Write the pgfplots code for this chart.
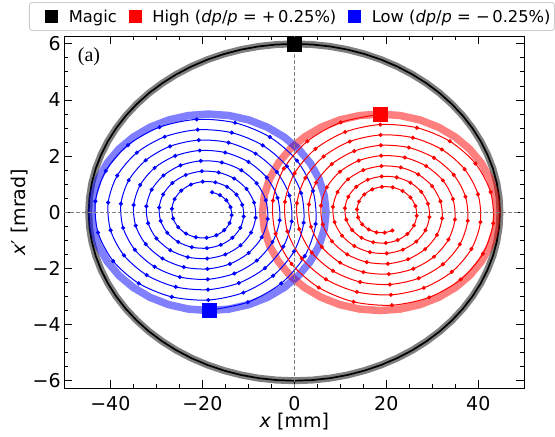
\documentclass[border=0pt]{standalone}
\usepackage{fontspec}
\setmainfont{DejaVu Sans}
\newfontfamily\panelfont{Liberation Serif}
\usepackage{pgfplots}
\usepackage{pgfplotstable}
\pgfplotsset{compat=1.18}

\definecolor{dashgray}{RGB}{128,128,128}
\definecolor{legendedge}{RGB}{204,204,204}

% magic-momentum orbit (x in mm, x' in mrad)
\pgfplotstableread{
x y
0.00 6.000
3.90 5.977
7.76 5.909
11.57 5.796
15.29 5.638
18.89 5.438
22.35 5.196
25.64 4.915
28.73 4.596
31.61 4.243
34.24 3.857
36.62 3.441
38.71 3.000
40.51 2.536
42.00 2.052
43.18 1.553
44.02 1.042
44.53 0.523
44.70 0.000
44.53 -0.523
44.02 -1.042
43.18 -1.553
42.00 -2.052
40.51 -2.536
38.71 -3.000
36.62 -3.441
34.24 -3.857
31.61 -4.243
28.73 -4.596
25.64 -4.915
22.35 -5.196
18.89 -5.438
15.29 -5.638
11.57 -5.796
7.76 -5.909
3.90 -5.977
0.00 -6.000
-3.90 -5.977
-7.76 -5.909
-11.57 -5.796
-15.29 -5.638
-18.89 -5.438
-22.35 -5.196
-25.64 -4.915
-28.73 -4.596
-31.61 -4.243
-34.24 -3.857
-36.62 -3.441
-38.71 -3.000
-40.51 -2.536
-42.00 -2.052
-43.18 -1.553
-44.02 -1.042
-44.53 -0.523
-44.70 0.000
-44.53 0.523
-44.02 1.042
-43.18 1.553
-42.00 2.052
-40.51 2.536
-38.71 3.000
-36.62 3.441
-34.24 3.857
-31.61 4.243
-28.73 4.596
-25.64 4.915
-22.35 5.196
-18.89 5.438
-15.29 5.638
-11.57 5.796
-7.76 5.909
-3.90 5.977
0.00 6.000
}\magicorbit

% acceptance ellipse of the dp/p = +0.25% beam
\pgfplotstableread{
x y
18.60 3.500
23.03 3.447
27.32 3.289
31.35 3.031
34.99 2.681
38.13 2.250
40.68 1.750
42.56 1.197
43.71 0.608
44.10 0.000
43.71 -0.608
42.56 -1.197
40.68 -1.750
38.13 -2.250
34.99 -2.681
31.35 -3.031
27.32 -3.289
23.03 -3.447
18.60 -3.500
14.17 -3.447
9.88 -3.289
5.85 -3.031
2.21 -2.681
-0.93 -2.250
-3.48 -1.750
-5.36 -1.197
-6.51 -0.608
-6.90 0.000
-6.51 0.608
-5.36 1.197
-3.48 1.750
-0.93 2.250
2.21 2.681
5.85 3.031
9.88 3.289
14.17 3.447
18.60 3.500
}\highring

% acceptance ellipse of the dp/p = -0.25% beam
\pgfplotstableread{
x y
-18.60 -3.500
-23.03 -3.447
-27.32 -3.289
-31.35 -3.031
-34.99 -2.681
-38.13 -2.250
-40.68 -1.750
-42.56 -1.197
-43.71 -0.608
-44.10 0.000
-43.71 0.608
-42.56 1.197
-40.68 1.750
-38.13 2.250
-34.99 2.681
-31.35 3.031
-27.32 3.289
-23.03 3.447
-18.60 3.500
-14.17 3.447
-9.88 3.289
-5.85 3.031
-2.21 2.681
0.93 2.250
3.48 1.750
5.36 1.197
6.51 0.608
6.90 0.000
6.51 -0.608
5.36 -1.197
3.48 -1.750
0.93 -2.250
-2.21 -2.681
-5.85 -3.031
-9.88 -3.289
-14.17 -3.447
-18.60 -3.500
}\lowring

% turn-by-turn phase-space track, dp/p = +0.25%
\pgfplotstableread{
x y
18.63 3.495
10.10 3.202
2.84 2.530
-2.27 1.561
-4.65 0.417
-4.06 -0.764
-0.59 -1.839
5.31 -2.680
12.89 -3.190
21.22 -3.310
29.30 -3.032
36.15 -2.395
40.98 -1.477
43.23 -0.394
42.66 0.723
39.37 1.738
33.80 2.532
26.64 3.013
18.69 3.126
11.07 2.862
4.61 2.259
0.07 1.393
-2.04 0.372
-1.50 -0.681
1.61 -1.638
6.86 -2.385
13.60 -2.836
21.00 -2.941
28.16 -2.692
34.23 -2.124
38.49 -1.309
40.46 -0.349
39.94 0.639
37.02 1.537
32.09 2.237
25.77 2.659
18.76 2.756
12.05 2.521
6.38 1.989
2.40 1.225
0.57 0.326
1.07 -0.598
3.80 -1.436
8.41 -2.089
14.31 -2.483
20.77 -2.571
27.02 -2.351
32.30 -1.853
35.99 -1.141
37.69 -0.304
37.21 0.556
34.66 1.335
30.37 1.941
24.89 2.306
18.82 2.387
13.03 2.181
8.15 1.718
4.74 1.057
3.18 0.281
3.63 -0.515
5.99 -1.235
9.96 -1.794
15.02 -2.129
20.55 -2.202
25.88 -2.010
30.37 -1.583
33.50 -0.973
34.92 -0.259
34.49 0.473
32.31 1.134
28.66 1.646
24.02 1.952
18.88 2.017
14.01 1.840
9.92 1.447
7.07 0.889
5.79 0.236
6.19 -0.431
8.19 -1.033
11.51 -1.498
15.74 -1.775
20.33 -1.832
24.74 -1.670
28.44 -1.312
31.00 -0.805
32.15 -0.214
31.77 0.390
29.96 0.932
26.95 1.350
23.15 1.598
18.94 1.648
14.99 1.500
11.68 1.177
9.40 0.721
8.40 0.191
8.75 -0.348
10.38 -0.832
13.06 -1.203
16.45 -1.421
20.11 -1.463
23.60 -1.329
26.51 -1.042
28.51 -0.637
29.38 -0.169
29.05 0.306
27.61 0.731
25.24 1.055
22.28 1.244
19.00 1.278
15.97 1.159
13.45 0.906
11.74 0.553
11.01 0.146
11.31 -0.265
12.57 -0.630
14.61 -0.907
17.16 -1.067
19.89 -1.093
22.46 -0.989
24.58 -0.771
26.01 -0.469
26.61 -0.123
26.33 0.223
25.25 0.529
23.53 0.759
21.40 0.890
19.06 0.909
16.95 0.818
15.22 0.636
14.07 0.385
13.62 0.101
13.87 -0.182
14.76 -0.429
16.17 -0.612
17.87 -0.713
19.67 -0.724
21.32 -0.648
}\highspiral

% turn-by-turn phase-space track, dp/p = -0.25%
\pgfplotstableread{
x y
-18.63 -3.495
-10.10 -3.202
-2.84 -2.530
2.27 -1.561
4.65 -0.417
4.06 0.764
0.59 1.839
-5.31 2.680
-12.89 3.190
-21.22 3.310
-29.30 3.032
-36.15 2.395
-40.98 1.477
-43.23 0.394
-42.66 -0.723
-39.37 -1.738
-33.80 -2.532
-26.64 -3.013
-18.69 -3.126
-11.07 -2.862
-4.61 -2.259
-0.07 -1.393
2.04 -0.372
1.50 0.681
-1.61 1.638
-6.86 2.385
-13.60 2.836
-21.00 2.941
-28.16 2.692
-34.23 2.124
-38.49 1.309
-40.46 0.349
-39.94 -0.639
-37.02 -1.537
-32.09 -2.237
-25.77 -2.659
-18.76 -2.756
-12.05 -2.521
-6.38 -1.989
-2.40 -1.225
-0.57 -0.326
-1.07 0.598
-3.80 1.436
-8.41 2.089
-14.31 2.483
-20.77 2.571
-27.02 2.351
-32.30 1.853
-35.99 1.141
-37.69 0.304
-37.21 -0.556
-34.66 -1.335
-30.37 -1.941
-24.89 -2.306
-18.82 -2.387
-13.03 -2.181
-8.15 -1.718
-4.74 -1.057
-3.18 -0.281
-3.63 0.515
-5.99 1.235
-9.96 1.794
-15.02 2.129
-20.55 2.202
-25.88 2.010
-30.37 1.583
-33.50 0.973
-34.92 0.259
-34.49 -0.473
-32.31 -1.134
-28.66 -1.646
-24.02 -1.952
-18.88 -2.017
-14.01 -1.840
-9.92 -1.447
-7.07 -0.889
-5.79 -0.236
-6.19 0.431
-8.19 1.033
-11.51 1.498
-15.74 1.775
-20.33 1.832
-24.74 1.670
-28.44 1.312
-31.00 0.805
-32.15 0.214
-31.77 -0.390
-29.96 -0.932
-26.95 -1.350
-23.15 -1.598
-18.94 -1.648
-14.99 -1.500
-11.68 -1.177
-9.40 -0.721
-8.40 -0.191
-8.75 0.348
-10.38 0.832
-13.06 1.203
-16.45 1.421
-20.11 1.463
-23.60 1.329
-26.51 1.042
-28.51 0.637
-29.38 0.169
-29.05 -0.306
-27.61 -0.731
-25.24 -1.055
-22.28 -1.244
-19.00 -1.278
-15.97 -1.159
-13.45 -0.906
-11.74 -0.553
-11.01 -0.146
-11.31 0.265
-12.57 0.630
-14.61 0.907
-17.16 1.067
-19.89 1.093
-22.46 0.989
-24.58 0.771
-26.01 0.469
-26.61 0.123
-26.33 -0.223
-25.25 -0.529
-23.53 -0.759
-21.40 -0.890
-19.06 -0.909
-16.95 -0.818
-15.22 -0.636
-14.07 -0.385
-13.62 -0.101
-13.87 0.182
-14.76 0.429
-16.17 0.612
-17.87 0.713
}\lowspiral

\begin{document}
\begin{tikzpicture}
\useasboundingbox (0,0) rectangle (555bp,437bp);
\begin{axis}[
  at={(64.3bp,48.7bp)}, anchor=south west,
  scale only axis, width=460bp, height=352bp,
  xmin=-50, xmax=50, ymin=-6.27, ymax=6.27,
  xtick={-40,-20,0,20,40},
  xticklabels={−40,−20,0,20,40},
  ytick={-6,-4,-2,0,2,4,6},
  yticklabels={−6,−4,−2,0,2,4,6},
  minor x tick num=3, minor y tick num=3,
  tick align=inside, tick pos=both,
  major tick length=8bp, minor tick length=4bp,
  tick style={black, line width=0.9bp},
  axis line style={line width=1bp},
  tick label style={font=\fontsize{19bp}{22bp}\selectfont, inner sep=0pt},
  xticklabel shift=7.5bp, yticklabel shift=3.5bp,
  xlabel={\textit{x} [mm]},
  ylabel={\textit{x}′ [mrad]},
  every axis x label/.style={at={(axis description cs:0.5,-0.1125)}, anchor=base,
    font=\fontsize{19bp}{22bp}\selectfont},
  every axis y label/.style={at={(axis description cs:-0.0963,0.5)}, anchor=center,
    rotate=90, font=\fontsize{19bp}{22bp}\selectfont},
  legend columns=3,
  legend style={
    at={(axis description cs:0.495,1)}, anchor=south, yshift=5.3bp,
    draw=legendedge, line width=0.9bp, rounded corners=3bp, fill=white,
    inner xsep=4bp, inner ysep=6bp, column sep=0pt,
    font=\fontsize{16.3bp}{19bp}\selectfont,
    nodes={inner sep=0pt, text height=13.9bp, text depth=2.1bp, draw=none},
  },
]
% acceptance ellipses and the magic orbit band
\addplot[black, draw opacity=0.5, line width=7bp, forget plot] table {\magicorbit};
\addplot[black, line width=1.7bp, forget plot] table {\magicorbit};
\addplot[red, draw opacity=0.5, line width=7.5bp, forget plot] table {\highring};
\addplot[blue, draw opacity=0.5, line width=7.5bp, forget plot] table {\lowring};

% tracked particles
\addplot[blue, line width=1bp, smooth, mark=*, mark size=1.5bp,
  mark options={draw=none, fill=blue}, forget plot] table {\lowspiral};
\addplot[red, line width=1bp, smooth, mark=*, mark size=1.5bp,
  mark options={draw=none, fill=red}, forget plot] table {\highspiral};

% launch points
\addplot[only marks, mark=square*, mark size=7bp, black, forget plot] coordinates {(0,6)};
\addplot[only marks, mark=square*, mark size=7bp, red, forget plot] coordinates {(18.6,3.5)};
\addplot[only marks, mark=square*, mark size=7bp, blue, forget plot] coordinates {(-18.6,-3.5)};

% reference axes through the origin
\addplot[dashgray, line width=1.2bp, dash pattern=on 4bp off 2bp, forget plot]
  coordinates {(-50,0) (50,0)};
\addplot[dashgray, line width=1.2bp, dash pattern=on 4bp off 2bp, forget plot]
  coordinates {(0,-6.27) (0,6.27)};

\node[anchor=base west, inner sep=0pt, font=\panelfont\fontsize{20bp}{23bp}\selectfont]
  at (axis cs:-47.1,5.36) {(a)};

\addlegendimage{legend image code/.code={
  \fill[black, draw=none, sharp corners] (0bp,-6.5bp) rectangle (13bp,6.5bp);
  \path[draw=none, fill=none] (-12bp,-1bp) rectangle (23.5bp,1bp);}}
\addlegendentry{Magic}
\addlegendimage{legend image code/.code={
  \fill[red, draw=none, sharp corners] (0bp,-6.5bp) rectangle (13bp,6.5bp);
  \path[draw=none, fill=none] (-12bp,-1bp) rectangle (23.5bp,1bp);}}
\addlegendentry{High (\textit{dp}/\textit{p} = +\,0.25\%)}
\addlegendimage{legend image code/.code={
  \fill[blue, draw=none, sharp corners] (0bp,-6.5bp) rectangle (13bp,6.5bp);
  \path[draw=none, fill=none] (-12bp,-1bp) rectangle (23.5bp,1bp);}}
\addlegendentry{Low (\textit{dp}/\textit{p} = −\,0.25\%)}
\end{axis}
\end{tikzpicture}
\end{document}
